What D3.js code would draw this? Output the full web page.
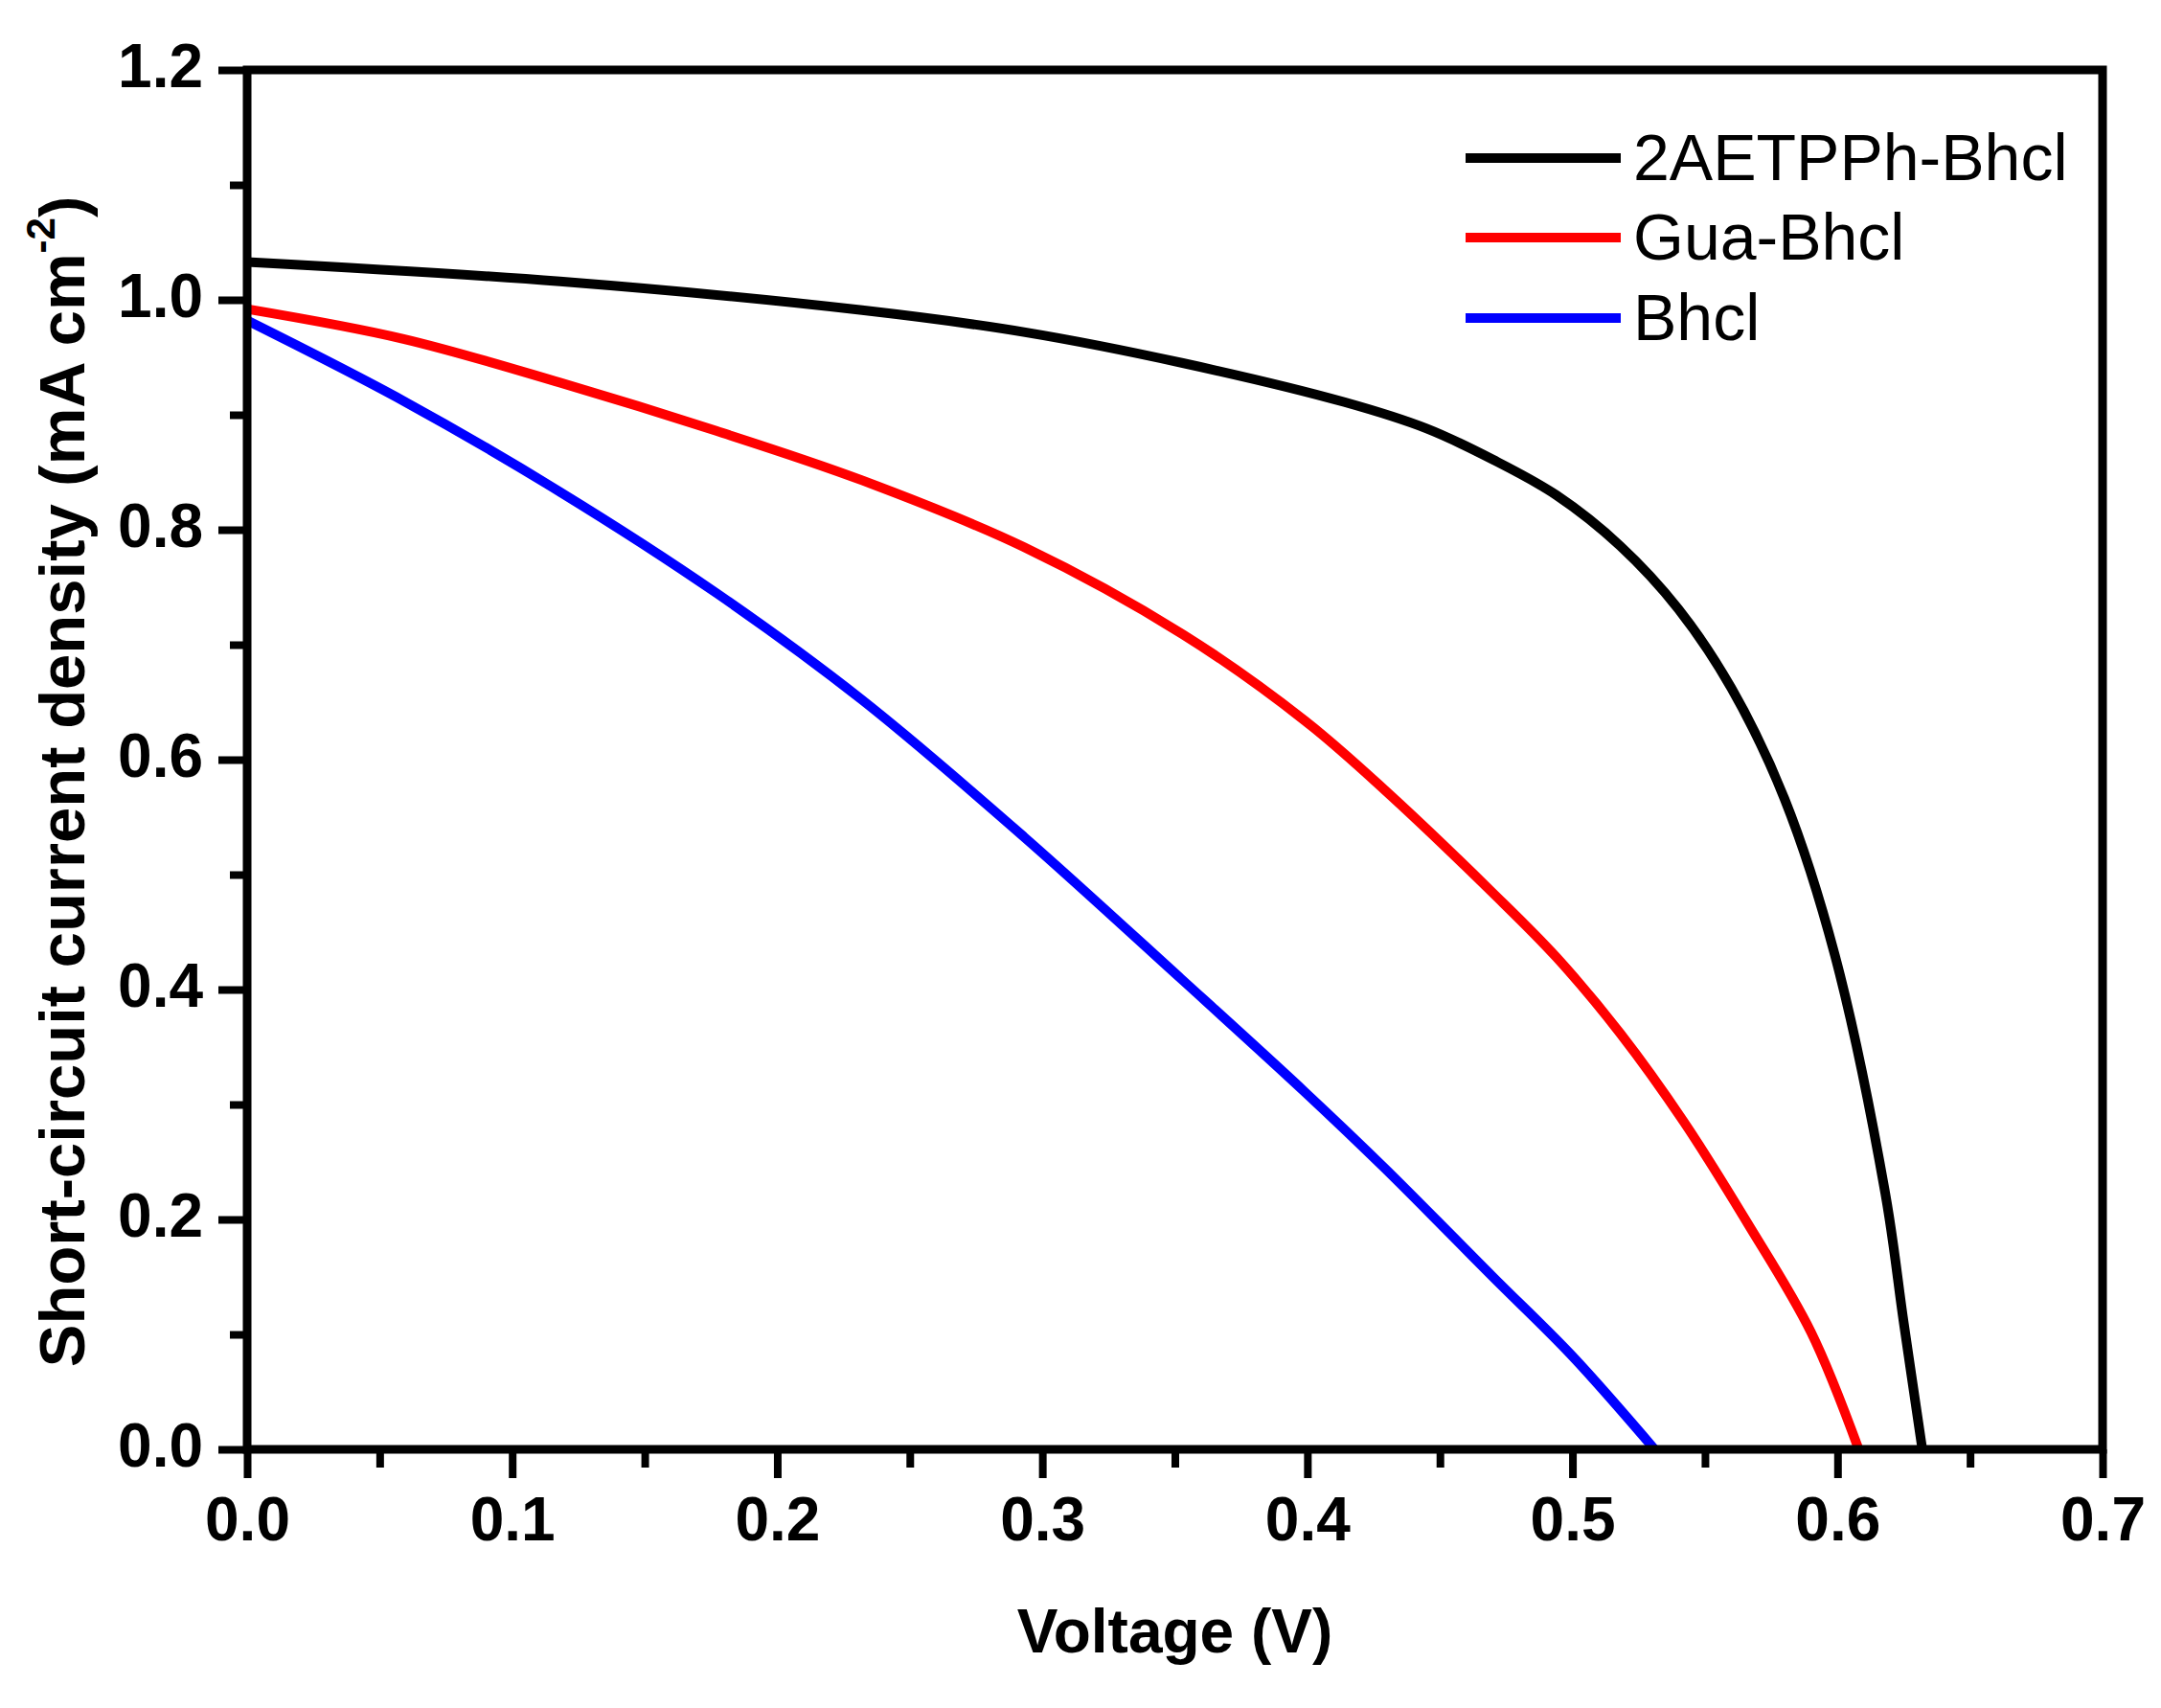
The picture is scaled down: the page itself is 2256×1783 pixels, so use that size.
<!DOCTYPE html>
<html>
<head>
<meta charset="utf-8">
<script src="https://cdn.jsdelivr.net/npm/d3@7"></script>
<style>
  body { margin: 0; background: #fff; }
  svg { display: block; }
  text { font-family: "Liberation Sans", Arial, sans-serif; }
</style>
</head>
<body>
<svg id="chart" width="2256" height="1783"></svg>
<script>
// J-V curves (V, mA cm-2)
const seriesNames = ['2AETPPh-Bhcl', 'Gua-Bhcl', 'Bhcl'];
const seriesColors = ['#000000', '#ff0000', '#0000ff'];

const voltsAETPPh = [0, 0.118, 0.232, 0.293, 0.353, 0.414, 0.445, 0.47, 0.494, 0.518, 0.54, 0.56, 0.58, 0.599, 0.618, 0.625, 0.632];
const currentAETPPh = [1.033, 1.016, 0.991, 0.972, 0.945, 0.911, 0.888, 0.861, 0.83, 0.786, 0.731, 0.662, 0.566, 0.43, 0.223, 0.11, 0];

const voltsGua = [0, 0.059, 0.118, 0.177, 0.232, 0.293, 0.353, 0.399, 0.429, 0.47, 0.494, 0.518, 0.542, 0.566, 0.59, 0.608];
const currentGua = [0.992, 0.966, 0.928, 0.886, 0.843, 0.785, 0.709, 0.634, 0.574, 0.484, 0.428, 0.362, 0.285, 0.197, 0.102, 0];

const voltsBhcl = [0, 0.059, 0.118, 0.177, 0.232, 0.293, 0.353, 0.399, 0.429, 0.47, 0.5, 0.531];
const currentBhcl = [0.982, 0.912, 0.833, 0.745, 0.652, 0.533, 0.408, 0.311, 0.245, 0.15, 0.081, 0];

const xTicks = [0, 0.1, 0.2, 0.3, 0.4, 0.5, 0.6, 0.7];
const xMinorTicks = [0.05, 0.15, 0.25, 0.35, 0.45, 0.55, 0.65];
const yTicks = [0, 0.2, 0.4, 0.6, 0.8, 1.0, 1.2];
const yMinorTicks = [0.1, 0.3, 0.5, 0.7, 0.9, 1.1];

const series = [
  { name: seriesNames[0], color: seriesColors[0], v: voltsAETPPh, j: currentAETPPh },
  { name: seriesNames[1], color: seriesColors[1], v: voltsGua, j: currentGua },
  { name: seriesNames[2], color: seriesColors[2], v: voltsBhcl, j: currentBhcl }
];

const plotLeft = 258, plotRight = 2195, plotTop = 73, plotBottom = 1513;

const x = d3.scaleLinear().domain([0, 0.7]).range([plotLeft, plotRight]);
const y = d3.scaleLinear().domain([0, 1.2]).range([plotBottom, plotTop]);

const svg = d3.select('#chart');

// curves
const line = d3.line()
  .x(d => x(d[0]))
  .y(d => y(d[1]))
  .curve(d3.curveCatmullRom.alpha(0.5));

svg.append('g').selectAll('path')
  .data(series)
  .join('path')
  .attr('d', s => line(s.v.map((v, i) => [v, s.j[i]])))
  .attr('fill', 'none')
  .attr('stroke', s => s.color)
  .attr('stroke-width', 10);

// frame
svg.append('rect')
  .attr('x', plotLeft).attr('y', plotTop)
  .attr('width', plotRight - plotLeft).attr('height', plotBottom - plotTop)
  .attr('fill', 'none')
  .attr('stroke', '#000')
  .attr('stroke-width', 9);

// axes
function styleAxis(g, fontSize) {
  g.select('.domain').remove();
  g.selectAll('.tick line').attr('stroke', '#000').attr('stroke-width', 8);
  g.selectAll('.tick text')
    .attr('fill', '#000')
    .attr('font-size', fontSize)
    .attr('font-weight', 'bold')
    .attr('font-family', '"Liberation Sans", Arial, sans-serif');
}

const xAxis = svg.append('g')
  .attr('transform', `translate(0,${plotBottom})`)
  .call(d3.axisBottom(x).tickValues(xTicks).tickFormat(d3.format('.1f')).tickSize(30).tickPadding(18));
styleAxis(xAxis, 64);
xAxis.selectAll('.tick text').attr('dy', null).attr('y', 95);

svg.append('g')
  .attr('transform', `translate(0,${plotBottom})`)
  .call(d3.axisBottom(x).tickValues(xMinorTicks).tickFormat('').tickSize(19))
  .call(g => styleAxis(g, 0));

const yAxis = svg.append('g')
  .attr('transform', `translate(${plotLeft},0)`)
  .call(d3.axisLeft(y).tickValues(yTicks).tickFormat(d3.format('.1f')).tickSize(30).tickPadding(12));
styleAxis(yAxis, 64);
yAxis.selectAll('.tick text').attr('dy', null).attr('y', 17).attr('x', -46);

svg.append('g')
  .attr('transform', `translate(${plotLeft},0)`)
  .call(d3.axisLeft(y).tickValues(yMinorTicks).tickFormat('').tickSize(18))
  .call(g => styleAxis(g, 0));

// axis titles
svg.append('text')
  .attr('x', (plotLeft + plotRight) / 2)
  .attr('y', 1725)
  .attr('text-anchor', 'middle')
  .attr('font-size', 64)
  .attr('font-weight', 'bold')
  .text('Voltage (V)');

const yTitle = svg.append('text')
  .attr('transform', 'translate(88,816) rotate(-90)')
  .attr('text-anchor', 'middle')
  .attr('font-size', 67)
  .attr('font-weight', 'bold');
yTitle.append('tspan').text('Short-circuit current density (mA cm');
yTitle.append('tspan').attr('font-size', 42).attr('dy', -31).text('-2');
yTitle.append('tspan').attr('dy', 31).text(')');

// legend
const legendY = [165, 248, 332];
const legend = svg.append('g').selectAll('g')
  .data(series)
  .join('g')
  .attr('transform', (s, i) => `translate(0,${legendY[i]})`);

legend.append('line')
  .attr('x1', 1530).attr('x2', 1692)
  .attr('y1', 0).attr('y2', 0)
  .attr('stroke', s => s.color)
  .attr('stroke-width', 10);

legend.append('text')
  .attr('x', 1705)
  .attr('y', 23)
  .attr('font-size', 68)
  .text(s => s.name);
</script>
</body>
</html>
